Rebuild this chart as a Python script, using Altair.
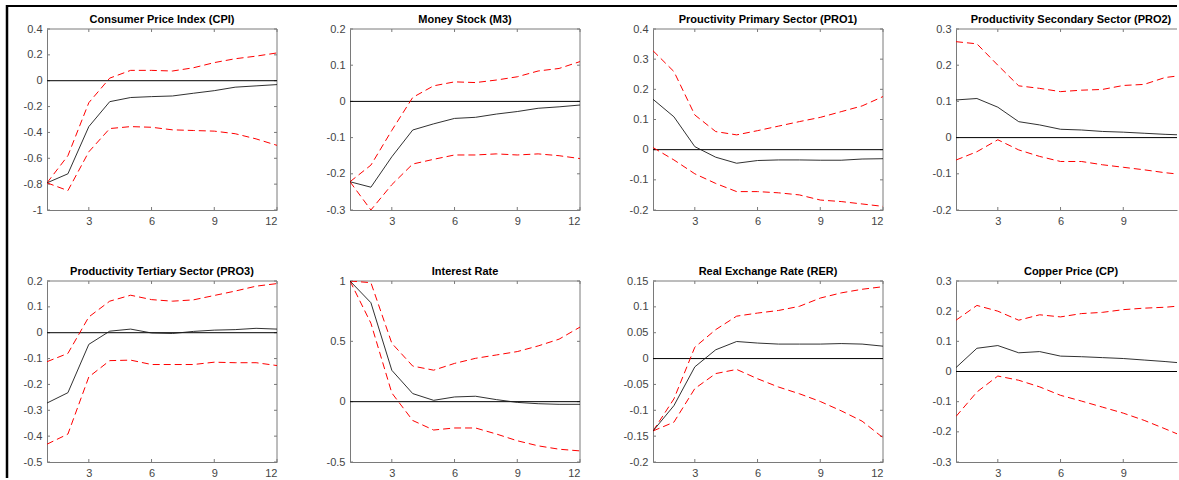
import altair as alt
import pandas as pd

# ---------------- data ----------------
horizon = list(range(1, 13))
x_tick_values = [3, 6, 9, 12]

titles = [
    "Consumer Price Index (CPI)",
    "Money Stock (M3)",
    "Prouctivity Primary Sector (PRO1)",
    "Productivity Secondary Sector (PRO2)",
    "Productivity Tertiary Sector (PRO3)",
    "Interest Rate",
    "Real Exchange Rate (RER)",
    "Copper Price (CP)",
]

y_domains = [
    [-1.0, 0.4], [-0.3, 0.2], [-0.2, 0.4], [-0.2, 0.3],
    [-0.5, 0.2], [-0.5, 1.0], [-0.2, 0.15], [-0.3, 0.3],
]

y_tick_values = [
    [-1, -0.8, -0.6, -0.4, -0.2, 0, 0.2, 0.4],
    [-0.3, -0.2, -0.1, 0, 0.1, 0.2],
    [-0.2, -0.1, 0, 0.1, 0.2, 0.3, 0.4],
    [-0.2, -0.1, 0, 0.1, 0.2, 0.3],
    [-0.5, -0.4, -0.3, -0.2, -0.1, 0, 0.1, 0.2],
    [-0.5, 0, 0.5, 1],
    [-0.2, -0.15, -0.1, -0.05, 0, 0.05, 0.1, 0.15],
    [-0.3, -0.2, -0.1, 0, 0.1, 0.2, 0.3],
]

cpi_irf = [-0.79, -0.72, -0.355, -0.162, -0.13, -0.123, -0.118, -0.097, -0.077, -0.05, -0.04, -0.03]
cpi_up = [-0.79, -0.58, -0.17, 0.02, 0.08, 0.08, 0.075, 0.10, 0.14, 0.17, 0.19, 0.215]
cpi_lo = [-0.79, -0.85, -0.55, -0.37, -0.355, -0.36, -0.38, -0.385, -0.39, -0.41, -0.45, -0.50]

m3_irf = [-0.222, -0.237, -0.153, -0.079, -0.062, -0.047, -0.044, -0.035, -0.028, -0.019, -0.015, -0.01]
m3_up = [-0.222, -0.176, -0.08, 0.011, 0.043, 0.054, 0.052, 0.059, 0.068, 0.084, 0.091, 0.11]
m3_lo = [-0.222, -0.30, -0.23, -0.173, -0.16, -0.148, -0.148, -0.145, -0.148, -0.145, -0.15, -0.158]

pro1_irf = [0.167, 0.109, 0.01, -0.025, -0.045, -0.036, -0.034, -0.034, -0.035, -0.035, -0.031, -0.03]
pro1_up = [0.328, 0.259, 0.115, 0.06, 0.049, 0.063, 0.078, 0.093, 0.107, 0.126, 0.145, 0.176]
pro1_lo = [0.007, -0.034, -0.08, -0.112, -0.139, -0.139, -0.143, -0.15, -0.167, -0.172, -0.18, -0.188]

pro2_irf = [0.104, 0.108, 0.084, 0.044, 0.035, 0.023, 0.021, 0.017, 0.015, 0.012, 0.009, 0.007]
pro2_up = [0.265, 0.259, 0.20, 0.143, 0.136, 0.127, 0.131, 0.133, 0.144, 0.147, 0.166, 0.173]
pro2_lo = [-0.062, -0.039, -0.006, -0.034, -0.052, -0.066, -0.066, -0.075, -0.082, -0.089, -0.097, -0.103]

pro3_irf = [-0.272, -0.232, -0.045, 0.006, 0.014, -0.001, -0.003, 0.005, 0.01, 0.012, 0.017, 0.014]
pro3_up = [-0.112, -0.08, 0.061, 0.122, 0.145, 0.128, 0.122, 0.127, 0.144, 0.161, 0.18, 0.19]
pro3_lo = [-0.431, -0.392, -0.171, -0.108, -0.106, -0.123, -0.123, -0.123, -0.114, -0.116, -0.116, -0.127]

ir_irf = [1.0, 0.82, 0.26, 0.067, 0.011, 0.039, 0.045, 0.017, -0.006, -0.017, -0.022, -0.022]
ir_up = [1.0, 0.986, 0.484, 0.295, 0.261, 0.317, 0.359, 0.387, 0.415, 0.462, 0.518, 0.618]
ir_lo = [1.0, 0.65, 0.072, -0.156, -0.235, -0.218, -0.218, -0.268, -0.324, -0.366, -0.394, -0.408]

rer_irf = [-0.14, -0.091, -0.016, 0.017, 0.033, 0.03, 0.028, 0.028, 0.028, 0.029, 0.028, 0.024]
rer_up = [-0.14, -0.078, 0.022, 0.056, 0.082, 0.088, 0.093, 0.101, 0.117, 0.127, 0.134, 0.139]
rer_lo = [-0.14, -0.123, -0.058, -0.029, -0.021, -0.039, -0.055, -0.068, -0.083, -0.101, -0.121, -0.153]

cp_irf = [0.013, 0.077, 0.086, 0.062, 0.066, 0.051, 0.049, 0.046, 0.043, 0.038, 0.033, 0.027]
cp_up = [0.17, 0.219, 0.20, 0.17, 0.188, 0.181, 0.192, 0.196, 0.205, 0.21, 0.213, 0.219]
cp_lo = [-0.149, -0.068, -0.015, -0.029, -0.051, -0.079, -0.098, -0.118, -0.138, -0.162, -0.19, -0.219]

irfs = [cpi_irf, m3_irf, pro1_irf, pro2_irf, pro3_irf, ir_irf, rer_irf, cp_irf]
uppers = [cpi_up, m3_up, pro1_up, pro2_up, pro3_up, ir_up, rer_up, cp_up]
lowers = [cpi_lo, m3_lo, pro1_lo, pro2_lo, pro3_lo, ir_lo, rer_lo, cp_lo]

# ---------------- layout / style ----------------
W = 230
W_LAST = 221
H = 181
TICK = 3
BOX = "#7a7a7a"
FONT = "Liberation Sans"


def panel(i, frame=False):
    last = (i % 4 == 3)
    w = W_LAST if last else W
    xmax = 1 + 11 * w / W
    xt = [t for t in x_tick_values if t <= xmax]
    yt = y_tick_values[i]

    x_enc = alt.X("h:Q", title=None,
                  scale=alt.Scale(domain=[1, xmax], nice=False, zero=False),
                  axis=alt.Axis(values=xt, labelExpr="'' + datum.value"))
    y_enc = alt.Y("v:Q", title=None,
                  scale=alt.Scale(domain=y_domains[i], nice=False, zero=False),
                  axis=alt.Axis(values=yt, labelExpr="'' + datum.value"))

    one = pd.DataFrame({"a": [0]})
    df_irf = pd.DataFrame({"h": horizon, "v": irfs[i]})
    df_up = pd.DataFrame({"h": horizon, "v": uppers[i]})
    df_lo = pd.DataFrame({"h": horizon, "v": lowers[i]})
    df_xt = pd.DataFrame({"h": xt})
    df_yt = pd.DataFrame({"v": yt})

    layers = []
    # box: top & right edges
    layers.append(alt.Chart(one).mark_rule(color=BOX, strokeWidth=1).encode(
        x=alt.value(0), x2=alt.value(w), y=alt.value(0)))
    if not last:
        layers.append(alt.Chart(one).mark_rule(color=BOX, strokeWidth=1).encode(
            x=alt.value(w), y=alt.value(0), y2=alt.value(H)))
    # inward ticks
    layers.append(alt.Chart(df_xt).mark_rule(color=BOX, strokeWidth=1).encode(
        x=x_enc, y=alt.value(H), y2=alt.value(H - TICK)))
    layers.append(alt.Chart(df_xt).mark_rule(color=BOX, strokeWidth=1).encode(
        x=x_enc, y=alt.value(0), y2=alt.value(TICK)))
    layers.append(alt.Chart(df_yt).mark_rule(color=BOX, strokeWidth=1).encode(
        y=y_enc, x=alt.value(0), x2=alt.value(TICK)))
    if not last:
        layers.append(alt.Chart(df_yt).mark_rule(color=BOX, strokeWidth=1).encode(
            y=y_enc, x=alt.value(w), x2=alt.value(w - TICK)))
    # zero line
    layers.append(alt.Chart(pd.DataFrame({"v": [0]})).mark_rule(
        color="black", strokeWidth=1).encode(y=y_enc))
    # confidence bands and IRF
    for d in (df_up, df_lo):
        layers.append(alt.Chart(d).mark_line(
            color="#ff0000", strokeWidth=1, strokeDash=[7, 4], clip=True
        ).encode(x=x_enc, y=y_enc))
    layers.append(alt.Chart(df_irf).mark_line(
        color="#1a1a1a", strokeWidth=0.9, clip=True).encode(x=x_enc, y=y_enc))

    # panel title as a text mark
    layers.append(alt.Chart(one).mark_text(
        font=FONT, fontSize=11, fontWeight="bold", color="black",
        align="center", baseline="alphabetic",
    ).encode(x=alt.value(W / 2), y=alt.value(-6), text=alt.value(titles[i])))

    if frame:
        layers.append(alt.Chart(one).mark_rule(color="black", strokeWidth=2.5).encode(
            x=alt.value(-40), y=alt.value(-24), y2=alt.value(449)))
        layers.append(alt.Chart(one).mark_rule(color="black", strokeWidth=2).encode(
            x=alt.value(-41), x2=alt.value(1130), y=alt.value(-23)))

    return alt.layer(*layers).properties(width=w, height=H)


chart = alt.concat(
    *[panel(i, frame=(i == 0)) for i in range(8)],
    columns=4, spacing={"row": 71, "column": 73}, bounds="flush",
).properties(
    padding={"left": 5, "top": 3, "right": 0, "bottom": 0},
    background="white",
).configure_view(
    stroke=None,
).configure_axis(
    labelFont=FONT, labelFontSize=11, labelColor="#444444",
    domainColor=BOX, domainWidth=1, ticks=False, tickSize=0,
    grid=False, labelPadding=5,
)

chart.save("out.html", embed_options={"renderer": "svg", "actions": False})
